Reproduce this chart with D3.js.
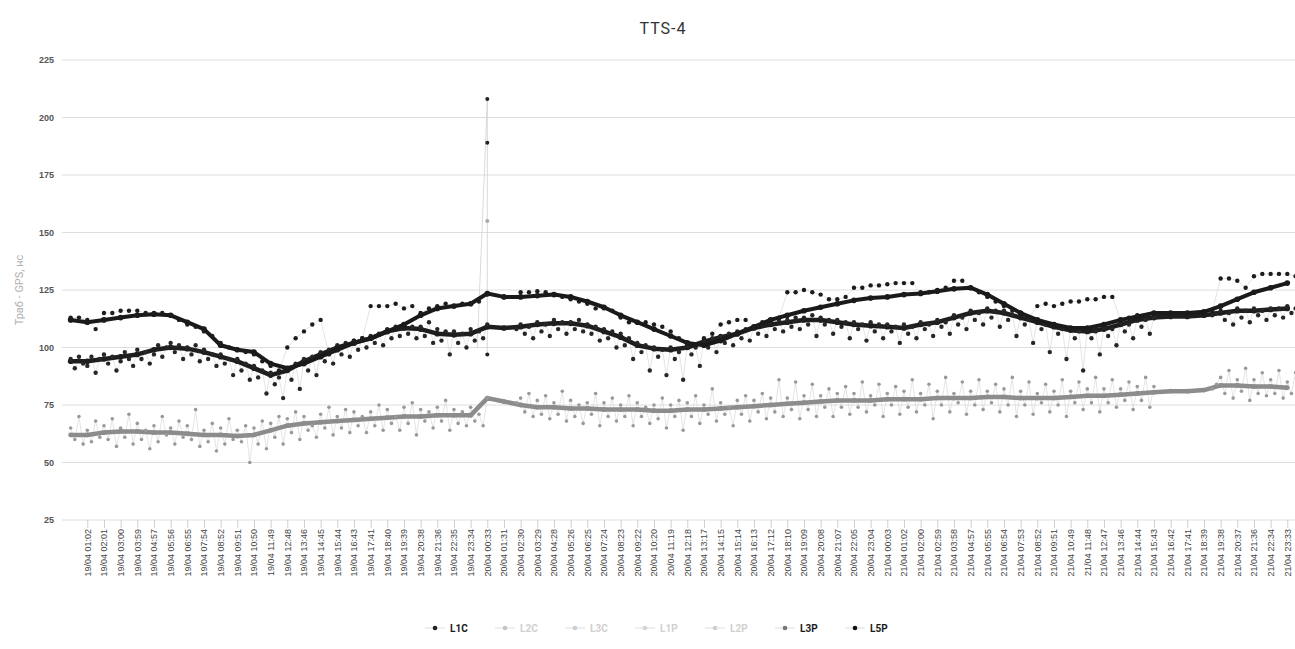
<!DOCTYPE html>
<html>
<head>
<meta charset="utf-8">
<script src="https://cdn.jsdelivr.net/npm/d3@7/dist/d3.min.js"></script>
<style>
  body { margin: 0; background: #fff; }
  svg { font-family: Roboto, "Open Sans", sans-serif; }
  .grid line { stroke: #dedede; }
  .ylab { font-size: 9px; font-weight: bold; fill: #555; }
  .xlab { font-size: 9px; font-weight: 500; fill: #444; }
</style>
</head>
<body>
<svg width="1295" height="649"></svg>
<script>
// tick labels (categories on the x axis)
var timeLabels = ["19/04 01:02","19/04 02:01","19/04 03:00","19/04 03:59","19/04 04:57","19/04 05:56","19/04 06:55","19/04 07:54","19/04 08:52","19/04 09:51","19/04 10:50","19/04 11:49","19/04 12:48","19/04 13:46","19/04 14:45","19/04 15:44","19/04 16:43","19/04 17:41","19/04 18:40","19/04 19:39","19/04 20:38","19/04 21:36","19/04 22:35","19/04 23:34",
  "20/04 00:33","20/04 01:31","20/04 02:30","20/04 03:29","20/04 04:28","20/04 05:26","20/04 06:25","20/04 07:24","20/04 08:23","20/04 09:22","20/04 10:20","20/04 11:19","20/04 12:18","20/04 13:17","20/04 14:15","20/04 15:14","20/04 16:13","20/04 17:12","20/04 18:10","20/04 19:09","20/04 20:08","20/04 21:07","20/04 22:05","20/04 23:04",
  "21/04 00:03","21/04 01:02","21/04 02:00","21/04 02:59","21/04 03:58","21/04 04:57","21/04 05:55","21/04 06:54","21/04 07:53","21/04 08:52","21/04 09:51","21/04 10:49","21/04 11:48","21/04 12:47","21/04 13:46","21/04 14:44","21/04 15:43","21/04 16:42","21/04 17:41","21/04 18:39","21/04 19:38","21/04 20:37","21/04 21:36","21/04 22:34","21/04 23:33"];

var yTicks = [25, 50, 75, 100, 125, 150, 175, 200, 225];
var legendNames = ["L1C", "L2C", "L3C", "L1P", "L2P", "L3P", "L5P"];
var legendOn = [true, false, false, false, false, true, true];

// hourly averages, one value per tick starting one tick before the first label
var l1cTrend = [94,94,95,96,97,99,100,99.5,98,96,94,91,88,90,94,97,100,102,104,107,108.5,108,106,105.5,106,
  109,108.5,109,110,110.5,110.5,109.5,107,104.5,101,99.5,99,100,102.5,104.5,106,108.5,110,111,112,112,111,110,109.5,109,108.5,
  110,111,113,115,116,115,113,111,109,107.5,107,108,110,112,113,113.5,113.5,114,115,116,116,116.5,117];
var l5pTrend = [112,111,112,113,114,114.5,114,111,108,101,99,98,93,91,93,96,99,102,104,107,110,114,117,118,119,
  123.5,122,122,122.5,123,122,120,117.5,114,111,108,105,102,101,103,106,109,112,114,116,117.5,119,120.5,121.5,122,123,
  123.5,124.5,125.5,126,123,119,115,112,110,108.5,108.5,110,112,113.5,115,115,115,115.5,118,121,124,126,128];
var l3pTrend = [62,62,63,63.5,63.5,63,63,62.5,62,62,61.5,62,64,66,67,67.5,68,68.5,69,69.5,70,70,70.5,70.5,70.5,
  78,76.5,75,74,74,73.5,73.5,73,73,73,72.5,72.5,73,73,73.5,74,74.5,75,75.5,76,76.5,77,77,77,77.5,77.5,
  77.5,78,78,78,78.5,78.5,78,78,78,78.5,79,79,79.5,80,80.5,81,81,81.5,83.5,83.5,83,83,82.5];

// raw readings, four per tick (null = no data)
var l1cRaw = [
  95,91,96,93, 92,96,89,95, 97,93,96,90, 94,98,95,92, 99,95,98,93, 97,101,96,100, 102,98,101,95, 100,97,101,94,
  99,95,97,92, 97,93,95,88, 95,90,93,86, 92,87,90,80, 89,84,87,78, 91,86,93,82, 95,90,96,88, 98,94,99,93,
  101,97,102,96, 103,99,104,100, 105,102,106,101, 108,104,109,105, 110,106,109,104, 109,105,111,102, 108,103,107,97, 107,102,106,100,
  108,103,107,104, 110,null,null,null, null,null,null,108, 110,106,109,104, 111,107,110,105, 112,108,111,106, 111,108,112,107, 110,106,109,103,
  108,104,107,100, 106,101,104,95, 102,98,101,90, 100,96,99,88, 100,95,98,86, 101,97,100,92, 103,100,104,98, 105,102,106,101,
  107,104,108,103, 109,106,110,105, 111,108,112,107, 112,109,113,108, 113,110,114,105, 113,110,112,106, 112,109,111,104, 111,108,110,103,
  111,107,110,104, 110,107,109,102, 110,106,109,104, 111,108,110,105, 112,109,111,106, 114,110,113,108, 116,112,115,110, 117,113,116,109,
  116,112,114,105, 114,110,112,102, 112,108,110,98, 110,106,108,95, 108,104,107,90, 108,104,107,97, 109,105,108,101, 111,107,110,104,
  113,109,112,106, 113,null,null,null, null,null,null,null, null,null,null,null, null,null,114,115, 116,112,115,110, 117,113,116,111,
  117,114,116,112, 117,114,117,113, 118,115,117,114];
// raw readings, two per tick
var l5pRaw = [
  113,113, 112,108, 115,115, 116,116, 116,115, 115,115, 114,112, 110,109, 107,105, 102,100, 99,98, 97,94, 92,90, 100,104,
  107,110, 112,97, 100,101, 103,104, 118,118, 118,119, 117,118, 115,117, 118,119, 118,119, 119,120, 123,null, null,null,
  124,124, 124.5,124, 123,122, 121,120, 119,117, 117,116, 113,111, 111,111, 110,109, 107,104, 102,101, 104,106, 110,111,
  112,112, 109,111, 112,113, 124,124, 125,124, 123,121, 121,122, 126,126, 127,127, 127.5,128, 128,128, 124,124, 125,126,
  129,129, 126,124, 122,120, 118,116, 114,113, 118,119, 118,119, 120,120, 121,121, 122,122, 112,113, 114,114, 115,null,
  null,null, null,null, null,116, 130,130, 129,126, 131,132, 132,132, 132,131];
var l3pRaw = [
  65,60,70,58, 64,59,68,61, 66,60,69,57, 65,61,71,58, 67,60,64,56, 66,59,70,62, 65,58,68,61, 66,60,73,57,
  64,59,67,55, 65,58,69,60, 64,59,66,50, 65,58,68,56, 67,61,70,58, 69,63,72,60, 70,64,66,61, 71,65,74,62,
  70,65,73,63, 72,66,70,63, 72,66,75,64, 73,67,70,64, 74,67,76,62, 73,68,72,65, 74,68,77,64, 73,67,72,66,
  74,68,71,66, 78,null,null,null, null,null,null,76, 78,72,80,70, 77,71,79,69, 76,71,81,68, 77,70,75,67, 76,71,80,66,
  76,70,78,68, 75,70,79,66, 76,70,74,67, 75,69,78,65, 75,70,77,64, 76,70,79,67, 75,71,82,68, 76,71,74,66,
  77,71,79,68, 77,72,80,69, 78,72,86,70, 78,73,85,69, 79,73,84,70, 79,74,82,70, 80,74,83,71, 80,74,85,72,
  79,75,84,70, 80,75,83,71, 81,74,86,72, 80,75,84,69, 81,75,87,72, 80,76,85,71, 81,75,86,73, 81,76,84,72,
  82,75,87,70, 81,75,85,71, 80,76,84,72, 81,75,86,70, 81,76,85,73, 82,76,87,72, 82,76,86,74, 82,77,85,73,
  83,77,87,74, 83,null,null,null, null,null,null,null, null,null,null,null, null,null,82,84, 87,80,90,78, 86,81,91,77,
  86,80,89,79, 86,80,90,78, 85,80,89,77];
// the outlier burst at 20/04 00:33
var spikeTick = [23.4, 24, 24, 24, 24];
var spikeVal = [100, 208, 189, 155, 97];

var svg = d3.select("svg"),
    plotLeft = 62, plotRight = 1295, plotTop = 60, plotBottom = 520;

var x = d3.scaleLinear().domain([0, 72]).range([87.3, 1287.3]);
var y = d3.scaleLinear().domain([25, 225]).range([plotBottom, plotTop]);

// grid
var grid = svg.append("g").attr("class", "grid");
grid.selectAll("line").data(yTicks).enter().append("line")
    .attr("x1", plotLeft).attr("x2", plotRight)
    .attr("y1", function(d) { return y(d); }).attr("y2", function(d) { return y(d); });

var yAxis = d3.axisLeft(y).tickValues(yTicks).tickSize(0).tickPadding(8);
svg.append("g").attr("transform", "translate(" + plotLeft + ",0)").call(yAxis)
    .call(function(g) { g.select(".domain").remove(); })
    .selectAll("text").attr("class", "ylab");

var xAxis = d3.axisBottom(x).tickValues(d3.range(timeLabels.length))
    .tickFormat(function(i) { return timeLabels[i]; }).tickSize(8);
var gx = svg.append("g").attr("transform", "translate(0," + plotBottom + ")").call(xAxis);
gx.select(".domain").remove();
gx.selectAll(".tick line").attr("stroke", "#cfcfcf");
gx.selectAll("text").attr("class", "xlab")
    .attr("transform", "rotate(-90)")
    .attr("text-anchor", "end")
    .attr("x", -9).attr("y", 0).attr("dy", "0.32em");

// titles
svg.append("text").attr("x", 663).attr("y", 34).attr("text-anchor", "middle")
    .style("font-size", "16px").style("letter-spacing", "1px").style("fill", "#333").text("TTS-4");
svg.append("text").attr("transform", "translate(23,290) rotate(-90)").attr("text-anchor", "middle")
    .style("font-size", "11px").style("fill", "#b0b0b0").text("Траб - GPS, нс");

svg.append("clipPath").attr("id", "plot").append("rect")
    .attr("x", plotLeft).attr("y", 0).attr("width", plotRight - plotLeft).attr("height", plotBottom);
var plot = svg.append("g").attr("clip-path", "url(#plot)");

function pts(arr, start, step) {
  return arr.map(function(v, i) { return { t: start + i * step, v: v }; });
}
var line = d3.line().defined(function(d) { return d.v != null; })
    .x(function(d) { return x(d.t); }).y(function(d) { return y(d.v); });

var series = [
  { raw: pts(l3pRaw, -1, 0.25), trend: pts(l3pTrend, -1, 1), col: "#8c8c8c", dot: "#999", r: 1.8, w: 4.5 },
  { raw: pts(l1cRaw, -1, 0.25), trend: pts(l1cTrend, -1, 1), col: "#1e1e1e", dot: "#262626", r: 2.2, w: 4.5 },
  { raw: pts(l5pRaw, -1, 0.5), trend: pts(l5pTrend, -1, 1), col: "#1a1a1a", dot: "#1c1c1c", r: 2.2, w: 4 }
];
var spike = spikeTick.map(function(t, i) { return { t: t, v: spikeVal[i] }; });

// faint joins between raw readings
series.forEach(function(s) {
  plot.append("path").attr("d", line(s.raw)).attr("fill", "none")
      .attr("stroke", "#d2d2d2").attr("stroke-width", 0.6);
});
plot.append("path").attr("d", line(spike)).attr("fill", "none")
    .attr("stroke", "#d0d0d0").attr("stroke-width", 0.8);

series.forEach(function(s) {
  plot.append("path").attr("d", line(s.trend)).attr("fill", "none")
      .attr("stroke", s.col).attr("stroke-width", s.w).attr("stroke-linejoin", "round");
  plot.selectAll(null).data(s.trend).enter()
      .append("circle").attr("r", s.r + 0.6).attr("fill", s.col)
      .attr("cx", function(d) { return x(d.t); }).attr("cy", function(d) { return y(d.v); });
  plot.selectAll(null).data(s.raw.filter(function(d) { return d.v != null; })).enter()
      .append("circle").attr("r", s.r).attr("fill", s.dot)
      .attr("cx", function(d) { return x(d.t); }).attr("cy", function(d) { return y(d.v); });
});
plot.selectAll(null).data(spike.slice(1)).enter().append("circle")
    .attr("r", 2).attr("fill", function(d, i) { return i == 2 ? "#aaa" : "#222"; })
    .attr("cx", function(d) { return x(d.t); }).attr("cy", function(d) { return y(d.v); });

// legend
var markCol = ["#222", "#c4c4c4", "#cfcfcf", "#d4d4d4", "#cfcfcf", "#777", "#111"];
var lg = svg.append("g").selectAll("g").data(legendNames).enter().append("g")
    .attr("transform", function(d, i) { return "translate(" + (435 + i * 70) + ",628)"; });
lg.append("line").attr("x1", -10).attr("x2", 10).attr("stroke", "#ddd").attr("stroke-width", 1);
lg.append("circle").attr("r", 2.3).attr("fill", function(d, i) { return markCol[i]; });
lg.append("text").attr("x", 15).attr("dy", "0.35em")
    .style("font-size", "10px").style("font-weight", "bold")
    .style("fill", function(d, i) { return legendOn[i] ? "#1a1a1a" : "#d0d0d0"; })
    .text(function(d) { return d; });
</script>
</body>
</html>
